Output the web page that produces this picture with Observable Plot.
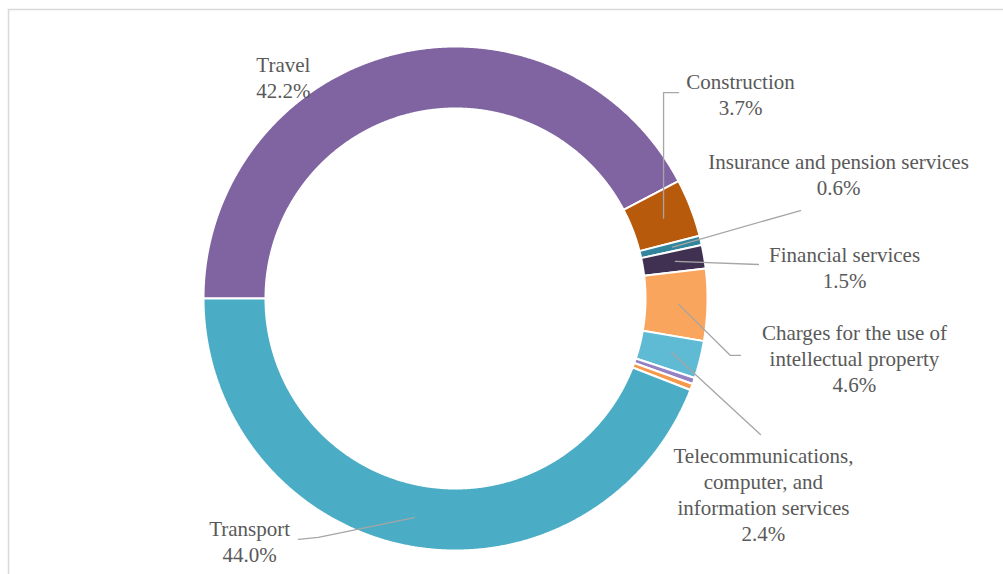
<!DOCTYPE html>
<html>
<head>
<meta charset="utf-8">
<script src="https://cdn.jsdelivr.net/npm/d3@7"></script>
<script src="https://cdn.jsdelivr.net/npm/@observablehq/plot@0.6"></script>
<style>
  html, body { margin: 0; padding: 0; background: #ffffff; }
  #chart svg { display: block; }
</style>
</head>
<body>
<div id="chart"></div>
<script>
// ---------- data ----------
const categories = [
  "Travel",
  "Construction",
  "Insurance and pension services",
  "Financial services",
  "Charges for the use of intellectual property",
  "Telecommunications, computer, and information services",
  "Personal, cultural, and recreational services",
  "Maintenance and repair services",
  "Transport"
];
const values = [42.2, 3.7, 0.6, 1.5, 4.6, 2.4, 0.4, 0.4, 44.0];
const labelLines = [
  ["Travel"],
  ["Construction"],
  ["Insurance and pension services"],
  ["Financial services"],
  ["Charges for the use of", "intellectual property"],
  ["Telecommunications,", "computer, and", "information services"],
  null,
  null,
  ["Transport"]
];

// ---------- style ----------
const palette = ["#8064A2", "#B85A0C", "#31859C", "#403152", "#F9A55E", "#5FBAD3", "#9582C4", "#F59A4C", "#4BACC6"];
const textColor = "#595959";
const leaderColor = "#A6A6A6";

// ---------- layout (units of outer radius, donut centre = 0,0) ----------
const W = 1003, H = 574;
const M = {left: 8, top: 9, right: 0, bottom: 0};
const centerPx = [455, 298], radiusPx = 252;
const innerRatio = 0.754;
const startAngle = 270;         // degrees clockwise from 12 o'clock
const leaderRadius = 0.885;
const labelPos = [
  [-0.683, 0.881],
  [1.131, 0.813],
  [1.520, 0.496],
  [1.544, 0.127],
  [1.583, -0.234],
  [1.222, -0.774],
  null,
  null,
  [-0.817, -0.960]
];
// leader route: intermediate / end points after slice anchor ("v" = go vertical first)
const leaderRoute = [
  null,
  {vertical: true, pts: [[0.885, 0.817]]},
  {pts: [[1.369, 0.349]]},
  {pts: [[1.202, 0.135]]},
  {pts: [[1.091, -0.226], [1.131, -0.226]]},
  {pts: [[1.210, -0.540]]},
  null,
  null,
  {pts: [[-0.544, -0.948], [-0.623, -0.956]]}
];

const xDomain = [(M.left - centerPx[0]) / radiusPx, (W - M.right - centerPx[0]) / radiusPx];
const yDomain = [-(H - M.bottom - centerPx[1]) / radiusPx, (centerPx[1] - M.top) / radiusPx];

// ---------- geometry from data ----------
const total = d3.sum(values);
const rad = a => a * Math.PI / 180;
const pt = (r, a) => ({x: r * Math.sin(rad(a)), y: r * Math.cos(rad(a))});

let cum = 0;
const slices = categories.map((name, i) => {
  const a0 = startAngle + cum / total * 360;
  cum += values[i];
  const a1 = startAngle + cum / total * 360;
  return {name, value: values[i], a0, a1, mid: (a0 + a1) / 2, i};
});

const slicePts = [];
for (const s of slices) {
  const n = Math.max(2, Math.ceil((s.a1 - s.a0) / 0.25));
  const ring = [];
  for (let k = 0; k <= n; k++) ring.push(pt(1, s.a0 + (s.a1 - s.a0) * k / n));
  for (let k = n; k >= 0; k--) ring.push(pt(innerRatio, s.a0 + (s.a1 - s.a0) * k / n));
  ring.push(ring[0]);
  for (const p of ring) slicePts.push({name: s.name, x: p.x, y: p.y});
}

const leaderPts = [];
slices.forEach((s, i) => {
  const route = leaderRoute[i];
  if (!route) return;
  const a = pt(leaderRadius, s.mid);
  leaderPts.push({name: s.name, x: a.x, y: a.y});
  if (route.vertical) leaderPts.push({name: s.name, x: a.x, y: route.pts[0][1]});
  for (const [x, y] of route.pts) leaderPts.push({name: s.name, x, y});
});

const labels = slices
  .filter((s, i) => labelLines[i])
  .map(s => ({
    x: labelPos[s.i][0],
    y: labelPos[s.i][1],
    text: labelLines[s.i].join("\n") + "\n" + s.value.toFixed(1) + "%"
  }));

// ---------- chart ----------
const chart = Plot.plot({
  width: W,
  height: H,
  marginLeft: M.left,
  marginTop: M.top,
  marginRight: M.right,
  marginBottom: M.bottom,
  x: {domain: xDomain, axis: null},
  y: {domain: yDomain, axis: null},
  color: {domain: categories, range: palette},
  style: {background: "#ffffff", fontFamily: "Liberation Serif, 'Times New Roman', serif"},
  marks: [
    Plot.ruleX([xDomain[0]], {stroke: "#D9D9D9", strokeWidth: 1.5}),
    Plot.ruleY([yDomain[1]], {stroke: "#D9D9D9", strokeWidth: 1.5}),
    Plot.line(slicePts, {x: "x", y: "y", z: "name", fill: "name", stroke: "#ffffff", strokeWidth: 2, strokeLinejoin: "miter", curve: "linear"}),
    Plot.line(leaderPts, {x: "x", y: "y", z: "name", stroke: leaderColor, strokeWidth: 1.3, curve: "linear"}),
    Plot.text(labels, {x: "x", y: "y", text: "text", fill: textColor, fontSize: 21, lineHeight: 1.23, textAnchor: "middle", fontFamily: "Liberation Serif, 'Times New Roman', serif"})
  ]
});
document.getElementById("chart").appendChild(chart);
</script>
</body>
</html>
